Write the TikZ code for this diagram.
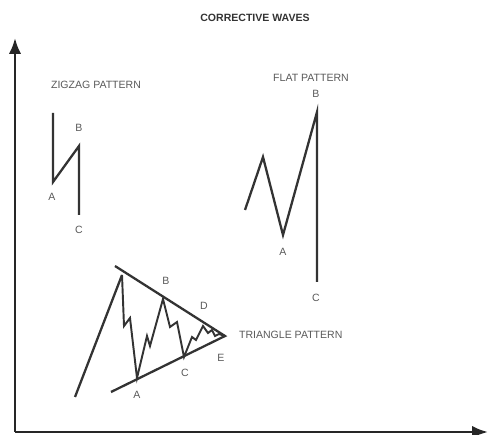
\documentclass[tikz,border=0pt]{standalone}
\usepackage{fontspec}
\setmainfont{Liberation Sans}
\usetikzlibrary{arrows.meta}

\begin{document}
\begin{tikzpicture}[x=0.02cm, y=-0.02cm,
    wave/.style={draw=black!80, line width=1.3pt, line join=miter},
    axis/.style={draw=black!85, line width=1.5pt, -{Latex[length=9pt,width=7pt]}},
    lbl/.style={text=black!65, font=\fontsize{6}{7}\selectfont, inner sep=1pt},
    every node/.style={font=\fontsize{6}{7}\selectfont}]

    \useasboundingbox (0,0) rectangle (488,435);

    % --- Title and axes ---
    \node[font=\fontsize{6}{7}\selectfont\bfseries, text=black!80] (title) at (255,18) {CORRECTIVE WAVES};
    \coordinate (origin) at (15,432);
    \coordinate (ytop) at (15,38);
    \coordinate (xend) at (488,432);
    \draw[axis] (origin) -- (ytop);
    \draw[axis] (origin) -- (xend);

    % --- Zigzag pattern ---
    \node[lbl] (zzname) at (96,85) {ZIGZAG PATTERN};
    \coordinate (zz0) at (53,113);
    \coordinate (zzA) at (53,182);
    \coordinate (zzB) at (79,146);
    \coordinate (zzC) at (79,215);
    \draw[wave] (zz0) -- (zzA) -- (zzB) -- (zzC);
    \node[lbl] (zzlA) at (52,197) {A};
    \node[lbl] (zzlB) at (79,128) {B};
    \node[lbl] (zzlC) at (79,230) {C};

    % --- Flat pattern ---
    \node[lbl] (flname) at (311,78) {FLAT PATTERN};
    \coordinate (fl0) at (245,210);
    \coordinate (fl1) at (263,157);
    \coordinate (flA) at (283,235);
    \coordinate (flB) at (317,112);
    \coordinate (flC) at (317,282);
    \draw[wave] (fl0) -- (fl1) -- (flA) -- (flB) -- (flC);
    \node[lbl] (fllA) at (283,252) {A};
    \node[lbl] (fllB) at (316,94) {B};
    \node[lbl] (fllC) at (316,298) {C};

    % --- Triangle pattern ---
    \node[lbl, anchor=west] (trname) at (237,335) {TRIANGLE PATTERN};
    \coordinate (apex) at (225,336);
    \coordinate (uptop) at (115,266);
    \coordinate (lowend) at (111,392);
    \coordinate (start) at (75,397);
    \coordinate (tr0) at (122,275);
    \coordinate (trA) at (137,378);
    \coordinate (trB) at (163,299);
    \coordinate (trC) at (184,357);
    \coordinate (trD) at (203,326);
    \draw[wave] (uptop) -- (apex) -- (lowend);
    \draw[wave] (start) -- (tr0);
    \draw[wave, line width=1.1pt] (tr0) -- (124,326) -- (130,318) -- (trA)
        -- (147,336) -- (150,346) -- (trB) -- (170,327) -- (177,322) -- (trC)
        -- (192,337) -- (196,340) -- (trD) -- (208,333) -- (212,330)
        -- (215,336) -- (219,334) -- (apex);
    \node[lbl] (trlA) at (137,395) {A};
    \node[lbl] (trlB) at (166,281) {B};
    \node[lbl] (trlC) at (185,373) {C};
    \node[lbl] (trlD) at (204,306) {D};
    \node[lbl] (trlE) at (221,358) {E};

\end{tikzpicture}
\end{document}
